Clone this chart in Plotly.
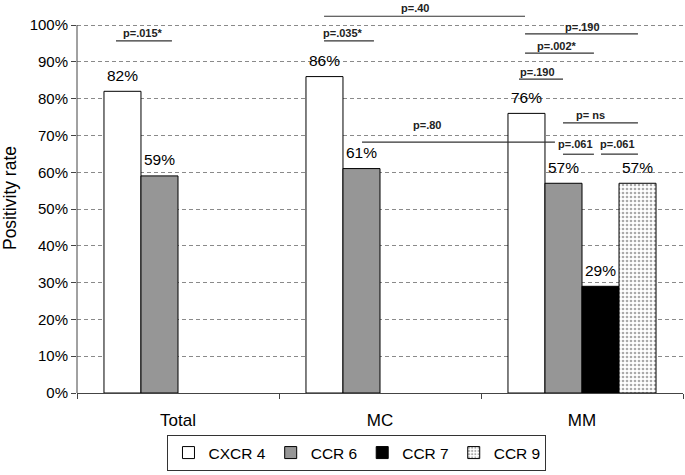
import plotly.graph_objects as go

# Data
categories = ["Total", "MC", "MM"]
cxcr4 = [82, 86, 76]
ccr6 = [59, 61, 57]
ccr7 = [None, None, 29]
ccr9 = [None, None, 57]
series_names = ["CXCR 4", "CCR 6", "CCR 7", "CCR 9"]
y_ticks = [0, 10, 20, 30, 40, 50, 60, 70, 80, 90, 100]
y_ticktext = [f"{v}%" for v in y_ticks]

# p-value brackets: label, line x0, line x1, line y, text x, text y (data units)
p_labels = ["p=.015*", "p=.035*", "p=.40", "p=.190", "p=.002*", "p=.190",
            "p=.80", "p= ns", "p=.061", "p=.061"]
p_x0 = [-0.307, 0.723, 0.723, 1.718, 1.718, 1.688, 0.911, 1.906, 1.906, 2.094]
p_x1 = [-0.030, 0.970, 1.718, 2.277, 2.059, 1.906, 1.866, 2.277, 2.059, 2.277]
p_y = [95.7, 95.7, 102.4, 97.6, 92.4, 85.3, 68.2, 73.4, 64.9, 64.9]
p_tx = [-0.173, 0.817, 1.173, 2.0, 1.876, 1.782, 1.233, 2.040, 1.970, 2.178]
p_ty = [97.8, 97.8, 104.6, 99.5, 94.3, 87.2, 72.8, 75.5, 67.6, 67.6]

FONT = "Arial, Liberation Sans, sans-serif"
BARGAP = 0.267

fig = go.Figure()

all_series = [cxcr4, ccr6, ccr7, ccr9]
fills = ["white", "#969696", "black", "white"]

for i, (name, vals, fill) in enumerate(zip(series_names, all_series, fills)):
    marker = dict(color=fill, line=dict(color="black", width=1))
    if name == "CCR 9":
        marker["pattern"] = dict(shape=".", fgcolor="#555555", bgcolor="white",
                                 size=4, solidity=0.35)
    fig.add_trace(go.Bar(x=categories, y=vals, name=name, marker=marker))

# value labels above bars
slot_w = (1 - BARGAP) / 4
annotations = []
for i, vals in enumerate(all_series):
    off = -(1 - BARGAP) / 2 + slot_w * (i + 0.5)
    for j, v in enumerate(vals):
        if v is None:
            continue
        annotations.append(dict(
            x=j + off, y=v, xref="x", yref="y", text=f"{v}%",
            showarrow=False, yshift=16, yanchor="middle",
            font=dict(size=15.5, color="black", family=FONT)))

shapes = []
for lab, x0, x1, y, tx, ty in zip(p_labels, p_x0, p_x1, p_y, p_tx, p_ty):
    shapes.append(dict(type="line", xref="x", yref="y", x0=x0, x1=x1, y0=y, y1=y,
                       line=dict(color="#333333", width=1.2)))
    annotations.append(dict(
        x=tx, y=ty, xref="x", yref="y", text=f"<b>{lab}</b>", showarrow=False,
        font=dict(size=11, color="#222222", family=FONT)))

# y axis line only up to 100%
shapes.append(dict(type="line", xref="paper", yref="y", x0=0, x1=0, y0=0, y1=100,
                   line=dict(color="#444444", width=1)))

fig.update_layout(
    width=685, height=475,
    margin=dict(l=77, r=2, t=3, b=82),
    plot_bgcolor="white", paper_bgcolor="white",
    barmode="group", bargap=BARGAP, bargroupgap=0,
    font=dict(family=FONT, color="black"),
    shapes=shapes,
    annotations=annotations,
    showlegend=True,
    legend=dict(orientation="h", x=0.462, xanchor="center", y=-0.2, yanchor="bottom",
                bordercolor="#333333", borderwidth=1, font=dict(size=15.5),
                traceorder="normal", itemwidth=30, tracegroupgap=0),
)

fig.update_xaxes(
    type="category", range=[-0.5, 2.5], tickson="boundaries",
    ticks="outside", ticklen=5, tickcolor="#444444",
    showline=True, linecolor="#444444", linewidth=1,
    showgrid=False, tickfont=dict(size=17), ticklabelstandoff=12,
    automargin=False,
)

fig.update_yaxes(
    range=[0, 106], tickvals=y_ticks, ticktext=y_ticktext,
    ticks="outside", ticklen=5, tickcolor="#444444",
    showline=False, zeroline=False,
    showgrid=True, gridcolor="#8a8a8a", gridwidth=1, griddash="4px,3px",
    tickfont=dict(size=15),
    title=dict(text="Positivity rate", font=dict(size=17.5), standoff=10),
    automargin=False,
)

# page has a default body margin; drop it so the figure sits at the window origin
fig.write_html("out.html",
               config={"displayModeBar": False},
               post_script="document.body.style.margin='0';"
                           "document.body.style.overflow='hidden';")
